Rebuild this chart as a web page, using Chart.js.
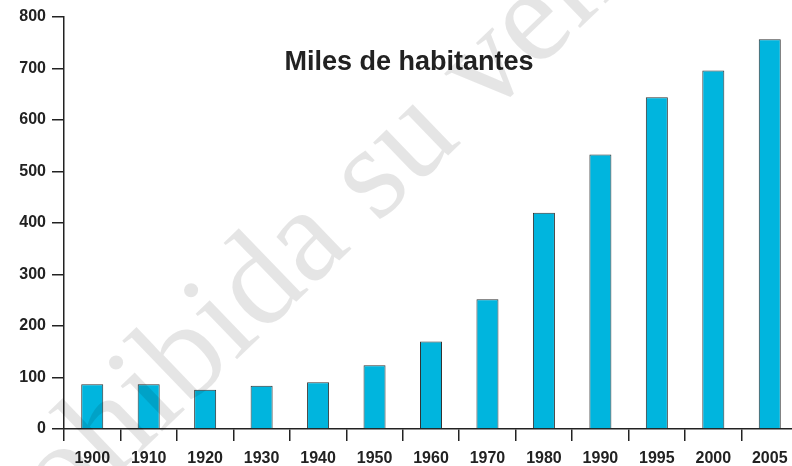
<!DOCTYPE html>
<html lang="es">
<head>
<meta charset="utf-8">
<title>Miles de habitantes</title>
<script src="https://cdn.jsdelivr.net/npm/chart.js@4.4.0/dist/chart.umd.min.js"></script>
<style>
    html, body { margin: 0; padding: 0; background: #fff; overflow: hidden; }
    #wrap { width: 800px; height: 466px; }
</style>
</head>
<body>
<div id="wrap"><canvas id="chart" width="800" height="466"></canvas></div>
<script>
const years = ['1900', '1910', '1920', '1930', '1940', '1950', '1960', '1970', '1980', '1990', '1995', '2000', '2005'];
const habitantes = [87, 87, 76, 84, 91, 124, 170, 252, 420, 533, 644, 696, 757];
const yTicks = [0, 100, 200, 300, 400, 500, 600, 700, 800];

const titulo = 'Miles de habitantes';
const marcaAgua = 'Prohibida su venta';

const inkColor = '#222222',
    barColor = '#00b5de',
    labelFont = { family: "'Liberation Sans', Arial, sans-serif", size: 16, weight: 'bold' };

// titulo dentro del area del grafico
const titlePlugin = {
    id: 'tituloInterior',
    afterDatasetsDraw(chart) {
        const ctx = chart.ctx;
        ctx.save();
        ctx.font = "bold 27px 'Liberation Sans', Arial, sans-serif";
        ctx.fillStyle = inkColor;
        ctx.textAlign = 'center';
        ctx.textBaseline = 'middle';
        ctx.fillText(titulo, 409, 63);
        ctx.restore();
    }
};

// marca de agua gris encima de todo
const watermarkPlugin = {
    id: 'marcaAgua',
    afterDraw(chart) {
        const ctx = chart.ctx,
            size = 134;
        ctx.save();
        ctx.font = size + "px 'Liberation Serif', 'Times New Roman', serif";
        ctx.fillStyle = 'rgba(0, 0, 0, 0.1)';
        const before = ctx.measureText('Proh').width,
            iw = ctx.measureText('i').width;
        // el punto de la primera "i" queda en (112, 357)
        ctx.translate(112, 357);
        ctx.rotate(-44 * Math.PI / 180);
        ctx.textBaseline = 'alphabetic';
        ctx.fillText(marcaAgua, -(before + iw / 2), 0.66 * size);
        ctx.restore();
    }
};

const chart = new Chart(document.getElementById('chart'), {
    type: 'bar',
    data: {
        labels: years,
        datasets: [{
            data: habitantes,
            backgroundColor: barColor,
            borderColor: '#333333',
            borderWidth: 1,
            categoryPercentage: 1,
            barPercentage: 0.39
        }]
    },
    options: {
        responsive: false,
        animation: false,
        layout: { padding: { top: 17, right: 2, left: 0, bottom: 0 } },
        plugins: {
            legend: { display: false },
            tooltip: { enabled: false }
        },
        scales: {
            x: {
                grid: {
                    offset: true,
                    drawOnChartArea: false,
                    drawTicks: true,
                    tickLength: 12,
                    color: inkColor,
                    lineWidth: 1.5
                },
                border: { color: inkColor, width: 1.5 },
                ticks: {
                    color: inkColor,
                    font: labelFont,
                    padding: 8,
                    maxRotation: 0,
                    autoSkip: false
                },
                afterFit(scale) { scale.height = 37; }
            },
            y: {
                min: 0,
                max: 800,
                afterBuildTicks(scale) {
                    scale.ticks = yTicks.map(v => ({ value: v }));
                },
                grid: {
                    drawOnChartArea: false,
                    drawTicks: true,
                    tickLength: 12,
                    color: inkColor,
                    lineWidth: 1.5
                },
                border: { color: inkColor, width: 1.5 },
                ticks: {
                    color: inkColor,
                    font: labelFont,
                    padding: 6
                },
                afterFit(scale) { scale.width = 64; }
            }
        }
    },
    plugins: [titlePlugin, watermarkPlugin]
});
</script>
</body>
</html>
